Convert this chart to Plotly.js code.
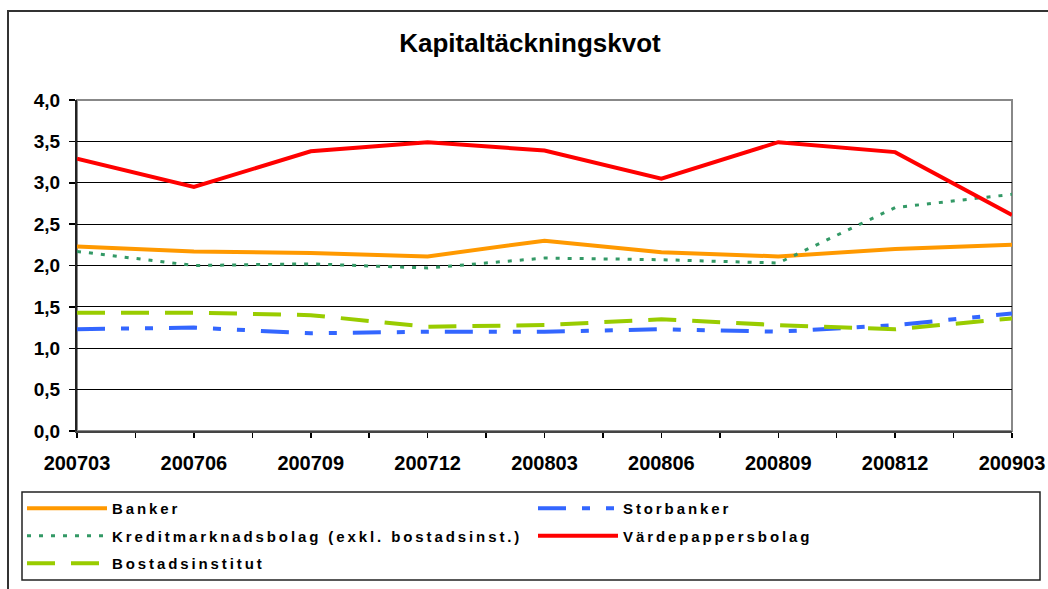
<!DOCTYPE html>
<html>
<head>
<meta charset="utf-8">
<script src="https://cdn.plot.ly/plotly-3.0.1.min.js"></script>
<style>
  html, body { margin: 0; padding: 0; background: #fff; }
  #chart { width: 1048px; height: 589px; }
  .infolayer g[class^="legend"] text { letter-spacing: 2.9px !important; }
  .infolayer g[class^="legend"] .scrollbox { clip-path: none !important; }
</style>
</head>
<body>
<div id="chart"></div>
<script>
// ---- data ----
const categories = ['200703','200706','200709','200712','200803','200806','200809','200812','200903'];
const banker      = [2.23, 2.17, 2.15, 2.11, 2.30, 2.16, 2.11, 2.20, 2.25];
const storbanker  = [1.23, 1.25, 1.18, 1.20, 1.20, 1.23, 1.20, 1.28, 1.42];
const kredit      = [2.17, 2.00, 2.02, 1.97, 2.09, 2.07, 2.03, 2.70, 2.86];
const vardepapper = [3.29, 2.95, 3.38, 3.49, 3.39, 3.05, 3.49, 3.37, 2.61];
const bostad      = [1.43, 1.43, 1.40, 1.26, 1.28, 1.35, 1.28, 1.23, 1.36];
const seriesNames = ['Banker', 'Storbanker', 'Kreditmarknadsbolag (exkl. bostadsinst.)', 'Värdepappersbolag', 'Bostadsinstitut'];
const yTickVals = [0, 0.5, 1, 1.5, 2, 2.5, 3, 3.5, 4];
const yTickText = ['0,0', '0,5', '1,0', '1,5', '2,0', '2,5', '3,0', '3,5', '4,0'];
const titleText = 'Kapitaltäckningskvot';

// ---- geometry (pixels) ----
const W = 1048, H = 589;
const PL = 77, PR = 1012, PT = 100, PB = 431;
const px2x = p => (p - PL) / (PR - PL);
const py2y = p => (PB - p) / (PB - PT);

const xIdx = categories.map((c, i) => i);
const FONT = 'Liberation Sans, Arial, sans-serif';

function tr(name, y, color, width, dash, legend, group) {
  return {
    x: xIdx, y: y, name: name, type: 'scatter', mode: 'lines',
    line: { color: color, width: width, dash: dash },
    legend: legend, legendgroup: group, hoverinfo: 'skip'
  };
}

const data = [
  tr(seriesNames[0], banker, '#FF9900', 4, 'solid', 'legend', 'g1'),
  tr(seriesNames[1], storbanker, '#3366FF', 4, '28px,16px,8px,16px,8px,16px', 'legend2', 'g2'),
  tr(seriesNames[2], kredit, '#339966', 3, '4px,8px', 'legend', 'g3'),
  tr(seriesNames[3], vardepapper, '#FF0000', 4, 'solid', 'legend2', 'g4'),
  tr(seriesNames[4], bostad, '#99CC00', 4, '28px,16px', 'legend', 'g5')
];

const legendCommon = {
  orientation: 'v', xref: 'container', yref: 'container',
  xanchor: 'left', yanchor: 'top',
  bgcolor: 'rgba(0,0,0,0)', borderwidth: 0,
  font: { family: FONT, size: 15, color: '#000', weight: 'bold' },
  itemwidth: 80, tracegroupgap: 5, traceorder: 'grouped',
  itemclick: false, itemdoubleclick: false
};

const layout = {
  width: W, height: H,
  margin: { l: PL, r: W - PR, t: PT, b: H - PB, autoexpand: false },
  paper_bgcolor: '#fff', plot_bgcolor: '#fff',
  title: {
    text: '<b>' + titleText + '</b>',
    font: { family: FONT, size: 26, color: '#000' },
    xref: 'container', yref: 'container',
    x: 530 / W, y: (H - 43) / H, xanchor: 'center', yanchor: 'middle'
  },
  xaxis: {
    type: 'linear', range: [0, categories.length - 1],
    tickvals: xIdx, ticktext: categories,
    tickfont: { family: FONT, size: 20, color: '#000', weight: 'bold' },
    ticks: 'outside', ticklen: 5, tickwidth: 1.5, tickcolor: '#000',
    minor: { dtick: 0.5, tick0: 0, ticks: 'outside', ticklen: 5, tickwidth: 1.5, tickcolor: '#000', showgrid: false },
    ticklabelstandoff: 8,
    showline: true, linecolor: '#444', linewidth: 2,
    showgrid: false, zeroline: false, fixedrange: true
  },
  yaxis: {
    range: [0, 4], tickvals: yTickVals, ticktext: yTickText,
    tickfont: { family: FONT, size: 19, color: '#000', weight: 'bold' },
    ticks: 'outside', ticklen: 6, tickwidth: 1.5, tickcolor: '#000',
    ticklabelstandoff: 5,
    showline: true, linecolor: '#222', linewidth: 2,
    showgrid: true, gridcolor: '#000', gridwidth: 1,
    zeroline: false, fixedrange: true
  },
  legend: Object.assign({}, legendCommon, { x: 22 / W, y: (H - 492) / H }),
  legend2: Object.assign({}, legendCommon, { x: 533 / W, y: (H - 492) / H }),
  shapes: [
    // plot area border (gray)
    { type: 'rect', xref: 'paper', yref: 'paper', x0: 0, x1: 1, y0: 0, y1: 1,
      line: { color: '#888', width: 2 }, layer: 'between' },
    // legend box
    { type: 'rect', xref: 'paper', yref: 'paper',
      x0: px2x(22), x1: px2x(1040), y0: py2y(580), y1: py2y(492),
      line: { color: '#222', width: 1.5 }, layer: 'above' },
    // outer chart frame (left & top edges visible)
    { type: 'path', xref: 'paper', yref: 'paper',
      path: 'M ' + px2x(8) + ' ' + py2y(620) + ' L ' + px2x(8) + ' ' + py2y(11) + ' L ' + px2x(1070) + ' ' + py2y(11),
      line: { color: '#333', width: 2 }, layer: 'above' }
  ],
  showlegend: true,
  hovermode: false
};

Plotly.newPlot('chart', data, layout, { displayModeBar: false, staticPlot: true });
</script>
</body>
</html>
